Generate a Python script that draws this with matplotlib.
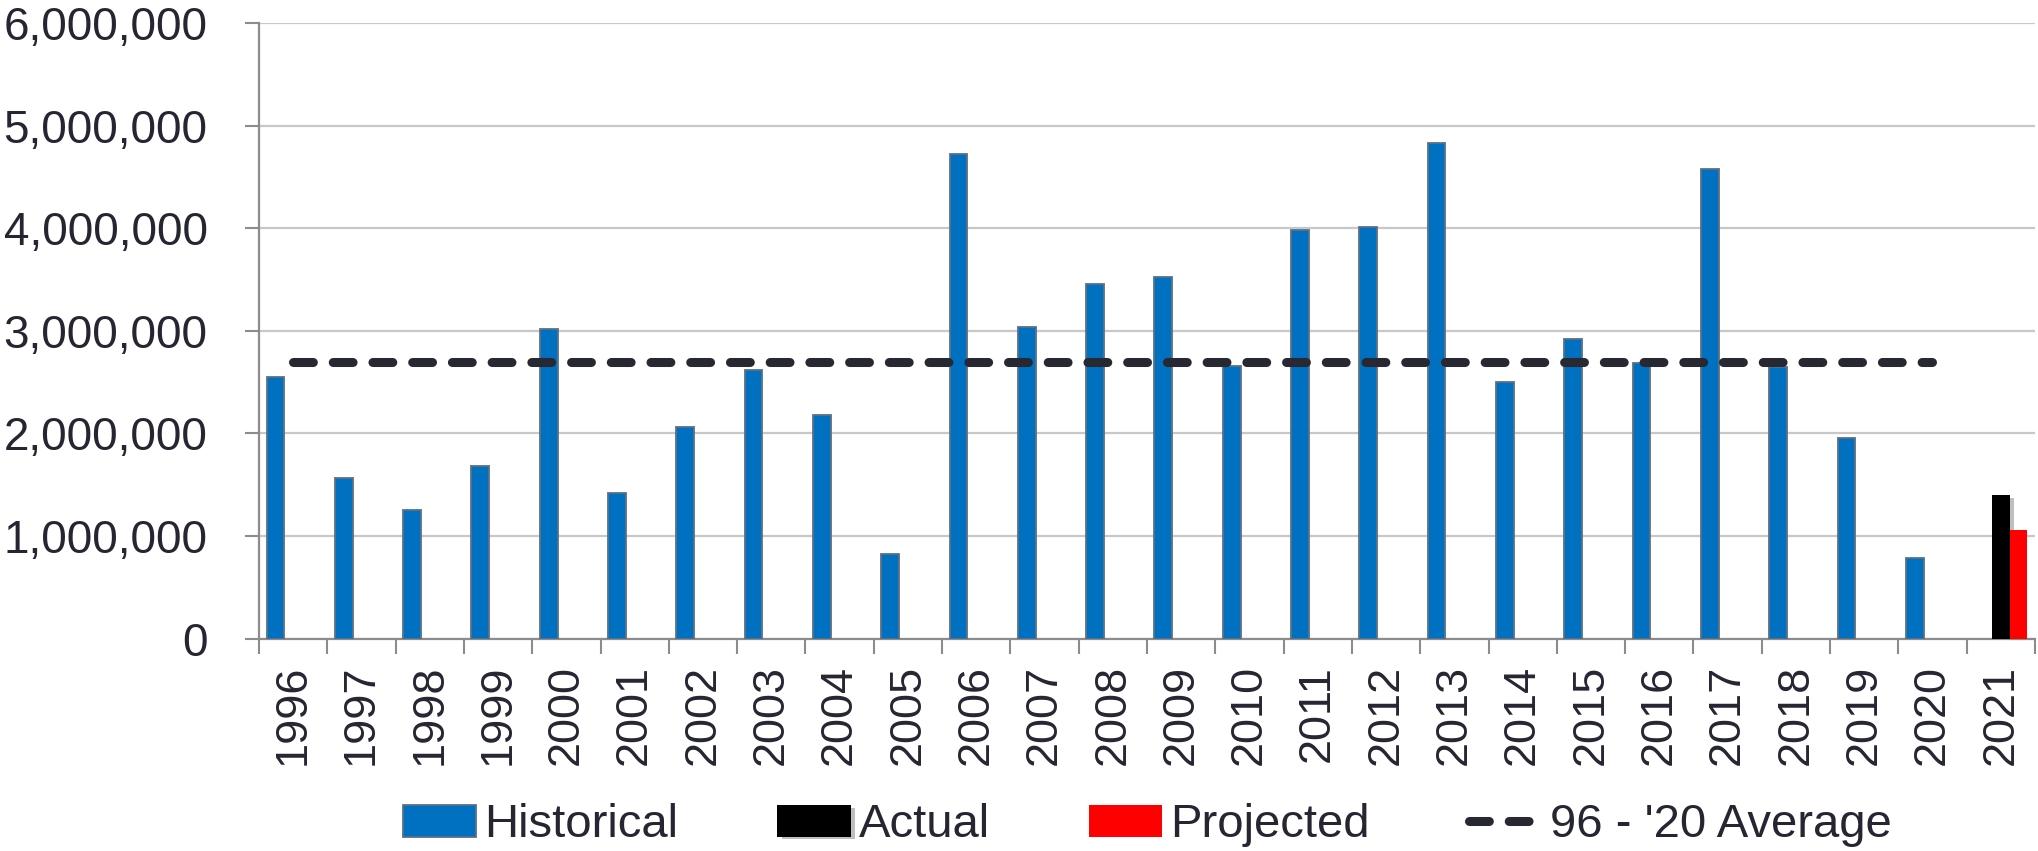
import matplotlib
matplotlib.use("Agg")
import matplotlib.pyplot as plt
import matplotlib.patheffects as pe
import numpy as np
from matplotlib.ticker import FuncFormatter

# データ
years = ["1996", "1997", "1998", "1999", "2000", "2001", "2002", "2003", "2004",
         "2005", "2006", "2007", "2008", "2009", "2010", "2011", "2012", "2013",
         "2014", "2015", "2016", "2017", "2018", "2019", "2020", "2021"]

historical = [2554000, 1566000, 1250000, 1686000, 3020000, 1420000, 2066000,
              2620000, 2180000, 824000, 4730000, 3040000, 3460000, 3530000,
              2660000, 3990000, 4015000, 4830000, 2500000, 2925000, 2690000,
              4580000, 2650000, 1953000, 790000]
actual = [1397000]       # 2021
projected = [1059000]    # 2021
average = 2700000        # 96 - '20 平均

y_ticks = [0, 1000000, 2000000, 3000000, 4000000, 5000000, 6000000]

TEXT = "#262633"
AXIS = "#8c8c8c"
GRID = "#c8c8c8"

plt.rcParams["font.family"] = ["Liberation Sans", "DejaVu Sans"]

fig = plt.figure(figsize=(20.38, 8.51), dpi=100)
ax = fig.add_axes([0.1271, 0.2497, 0.8714, 0.7227])

x = np.arange(len(years))
w = 0.26
n_hist = len(historical)

b_hist = ax.bar(x[:n_hist] - w, historical, w, color="#0070C0",
                edgecolor="#5b6f86", linewidth=1.3, zorder=3)
b_act = ax.bar(x[n_hist:], actual, w, color="black", linewidth=0, zorder=3)
for p in b_act:
    p.set_path_effects([pe.SimplePatchShadow(offset=(3, -2), alpha=0.25), pe.Normal()])
b_proj = ax.bar(x[n_hist:] + w, projected, w, color="#FF0000", linewidth=0, zorder=4)

avg_line, = ax.plot(x[:n_hist], [average] * n_hist, color="#282832", linewidth=6.5,
                    dashes=(2.2, 2.2), dash_capstyle="round", zorder=5)

# 軸
ax.set_xlim(-0.5, len(years) - 0.5)
ax.set_ylim(0, 6000000)
ax.set_yticks(y_ticks)
ax.yaxis.set_major_formatter(FuncFormatter(lambda v, _: f"{v:,.0f}"))
ax.tick_params(axis="y", length=10, width=1.5, color=AXIS, pad=27,
               labelsize=33, labelcolor=TEXT)
ax.grid(axis="y", color=GRID, linewidth=1.6, zorder=0)
ax.set_axisbelow(True)

ax.set_xticks(np.arange(len(years) + 1) - 0.5)
ax.set_xticklabels([])
ax.tick_params(axis="x", which="major", length=11, width=1.5, color=AXIS)
ax.set_xticks(x, minor=True)
ax.set_xticklabels(years, minor=True, rotation=90)
ax.tick_params(axis="x", which="minor", length=0, pad=19, labelsize=32.5,
               labelcolor=TEXT)

for s in ["top", "right"]:
    ax.spines[s].set_visible(False)
for s in ["left", "bottom"]:
    ax.spines[s].set_color(AXIS)
    ax.spines[s].set_linewidth(1.6)

# 凡例
fig.legend([b_hist, b_act, b_proj, avg_line],
           ["Historical", "Actual", "Projected", "96 - '20 Average"],
           loc="center", bbox_to_anchor=(0.563, 0.03), ncol=4, frameon=False,
           fontsize=34, labelcolor=TEXT, handlelength=1.55, handleheight=0.65,
           handletextpad=0.17, columnspacing=2.1, borderpad=0)

fig.savefig("out.png", dpi=100)
